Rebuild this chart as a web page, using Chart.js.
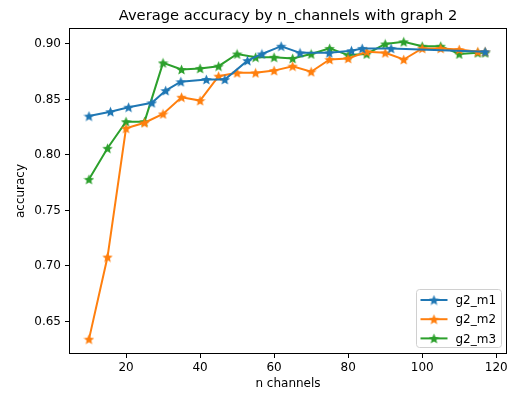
<!DOCTYPE html>
<html lang="en">
<head>
    <meta charset="UTF-8">
    <title>Average accuracy by n_channels with graph 2</title>
    <script src="https://cdn.jsdelivr.net/npm/chart.js@4.4.0/dist/chart.umd.min.js"></script>
    <style>
        body { margin: 0; background: #fff; }
        #wrap { width: 510px; height: 393px; }
    </style>
</head>
<body>
    <div id="wrap"><canvas id="accChart" width="510" height="393"></canvas></div>
    <script>
        // data
        const m1X = [10, 15.8, 20.7, 27, 30.7, 34.8, 41.7, 46.7, 52.8, 56.7, 61.9, 67, 74.9, 80.9, 83.8, 91.6, 117];
        const m1Y = [0.835, 0.839, 0.843, 0.847, 0.858, 0.866, 0.868, 0.868, 0.885, 0.891, 0.898, 0.892, 0.892, 0.894, 0.896, 0.896, 0.893];
        const m2X = [10, 15, 20, 25, 30, 35, 40, 45, 50, 55, 60, 65, 70, 75, 80, 85, 90, 95, 100, 105, 110, 115, 117];
        const m2Y = [0.634, 0.708, 0.824, 0.829, 0.837, 0.852, 0.849, 0.871, 0.874, 0.874, 0.876, 0.880, 0.875, 0.886, 0.887, 0.893, 0.892, 0.886, 0.896, 0.896, 0.895, 0.893, 0.893];
        const m3X = [10, 15, 20, 25, 30, 35, 40, 45, 50, 55, 60, 65, 70, 75, 80, 85, 90, 95, 100, 105, 110, 115, 117];
        const m3Y = [0.778, 0.806, 0.830, 0.830, 0.883, 0.877, 0.878, 0.880, 0.891, 0.888, 0.888, 0.887, 0.891, 0.896, 0.890, 0.891, 0.900, 0.902, 0.898, 0.898, 0.891, 0.892, 0.892];
        const seriesNames = ['g2_m1', 'g2_m2', 'g2_m3'];
        const seriesColors = ['#1f77b4', '#ff7f0e', '#2ca02c'];
        const xTicks = [20, 40, 60, 80, 100, 120];
        const yTicks = [0.65, 0.70, 0.75, 0.80, 0.85, 0.90];

        const FONT = "'DejaVu Sans', sans-serif";

        // filled five point star like matplotlib's '*'
        function starMarker(color, size) {
            const c = document.createElement('canvas');
            c.width = size; c.height = size;
            const g = c.getContext('2d');
            const cx = size / 2, cy = size / 2 + 0.6;
            const ro = size / 2, ri = ro * 0.45;
            g.beginPath();
            for (let i = 0; i < 10; i++) {
                const r = i % 2 === 0 ? ro : ri;
                const a = -Math.PI / 2 + i * Math.PI / 5;
                const px = cx + r * Math.cos(a), py = cy + r * Math.sin(a);
                if (i === 0) g.moveTo(px, py); else g.lineTo(px, py);
            }
            g.closePath();
            g.fillStyle = color;
            g.fill();
            return c;
        }
        const markers = seriesColors.map(c => starMarker(c, 11));

        const pairs = (xs, ys) => xs.map((x, i) => ({ x: x, y: ys[i] }));
        const allData = [pairs(m1X, m1Y), pairs(m2X, m2Y), pairs(m3X, m3Y)];

        const datasets = allData.map((d, i) => ({
            label: seriesNames[i],
            data: d,
            showLine: true,
            borderColor: seriesColors[i],
            backgroundColor: seriesColors[i],
            borderWidth: 2,
            pointStyle: markers[i],
            pointRadius: 5,
            tension: 0
        }));

        // axes frame, title and legend box (matplotlib look)
        const frameAndLegend = {
            id: 'frameAndLegend',
            afterDraw(chart) {
                const { ctx, chartArea: a } = chart;
                ctx.save();
                ctx.strokeStyle = '#000';
                ctx.lineWidth = 1;
                ctx.strokeRect(a.left + 0.5, a.top + 0.5, a.right - a.left - 1, a.bottom - a.top - 1);

                ctx.fillStyle = '#000';
                ctx.font = '14.7px ' + FONT;
                ctx.textAlign = 'center';
                ctx.textBaseline = 'middle';
                ctx.fillText('Average accuracy by n_channels with graph 2', (a.left + a.right) / 2, 16);

                // legend
                const bx = 416.5, by = 289.5, bw = 85, bh = 58;
                ctx.fillStyle = 'rgba(255,255,255,0.8)';
                ctx.strokeStyle = '#d0d0d0';
                ctx.beginPath();
                ctx.roundRect(bx, by, bw, bh, 3);
                ctx.fill();
                ctx.stroke();
                ctx.font = '12px ' + FONT;
                ctx.textAlign = 'left';
                seriesNames.forEach((name, i) => {
                    const yy = by + 10.5 + i * 19.2;
                    ctx.strokeStyle = seriesColors[i];
                    ctx.lineWidth = 2;
                    ctx.beginPath();
                    ctx.moveTo(bx + 4, yy);
                    ctx.lineTo(bx + 31, yy);
                    ctx.stroke();
                    ctx.drawImage(markers[i], bx + 17.5 - 5.5, yy - 5.5);
                    ctx.fillStyle = '#000';
                    ctx.fillText(name, bx + 39, yy + 1);
                });
                ctx.restore();
            }
        };

        new Chart(document.getElementById('accChart'), {
            type: 'scatter',
            data: { datasets: datasets },
            options: {
                responsive: false,
                animation: false,
                layout: { autoPadding: false, padding: { left: 0, right: 3, top: 28, bottom: 0 } },
                plugins: {
                    legend: { display: false },
                    title: { display: false },
                    tooltip: { enabled: false }
                },
                scales: {
                    x: {
                        type: 'linear',
                        min: 4.6,
                        max: 122.9,
                        afterBuildTicks: s => { s.ticks = xTicks.map(v => ({ value: v })); },
                        afterFit: s => { s.height = 39; s.paddingLeft = 0; s.paddingRight = 0; },
                        ticks: { color: '#000', font: { family: FONT, size: 12 }, padding: 3, maxRotation: 0 },
                        grid: { drawOnChartArea: false, drawTicks: true, tickLength: 4, color: '#000' },
                        border: { display: false },
                        title: { display: true, text: 'n channels', color: '#000', font: { family: FONT, size: 12 }, padding: { top: 0, bottom: 2 } }
                    },
                    y: {
                        min: 0.6206,
                        max: 0.9144,
                        afterBuildTicks: s => { s.ticks = yTicks.map(v => ({ value: v })); },
                        afterFit: s => { s.width = 69; s.paddingTop = 0; s.paddingBottom = 0; },
                        ticks: { color: '#000', font: { family: FONT, size: 12 }, padding: 4, callback: v => v.toFixed(2) },
                        grid: { drawOnChartArea: false, drawTicks: true, tickLength: 4, color: '#000' },
                        border: { display: false },
                        title: { display: true, text: 'accuracy', color: '#000', font: { family: FONT, size: 12 }, padding: { top: 14, bottom: 0 } }
                    }
                }
            },
            plugins: [frameAndLegend]
        });
    </script>
</body>
</html>
